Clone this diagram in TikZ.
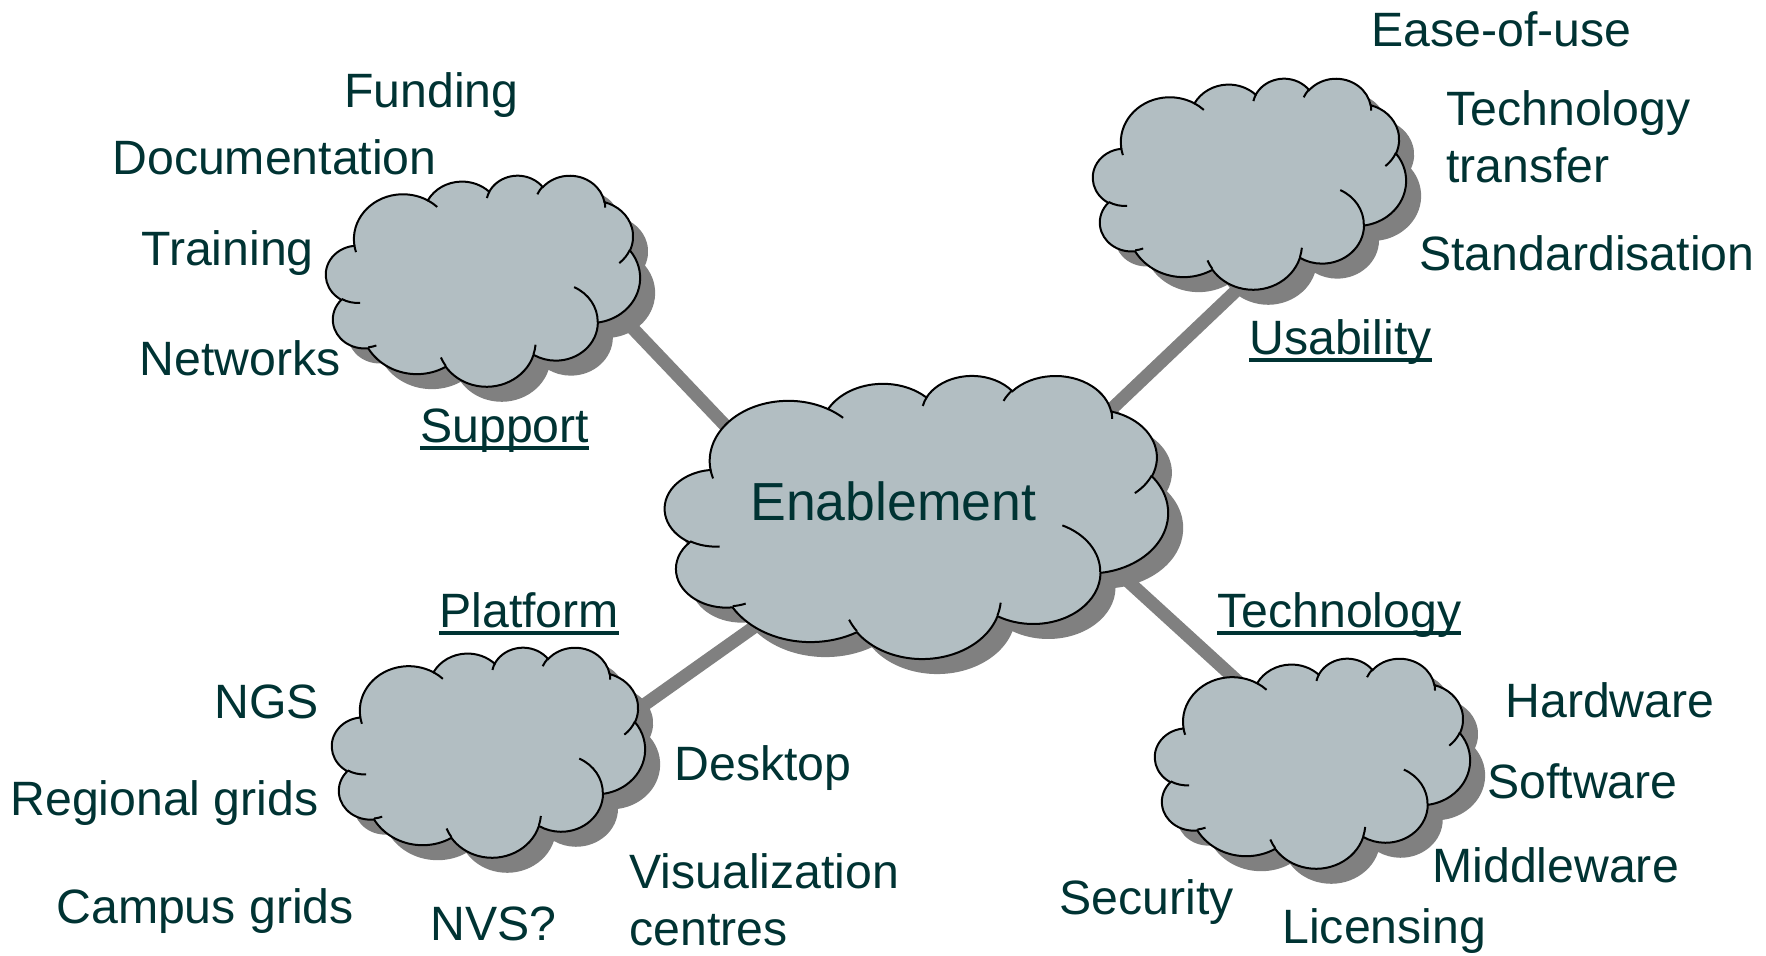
\documentclass[tikz,border=0pt]{standalone}
\usepackage{fontspec}
\setmainfont{Liberation Sans}
\definecolor{cloudfill}{RGB}{178,190,194}
\definecolor{txtc}{RGB}{0,51,51}
\definecolor{shadec}{RGB}{128,128,128}
\newcommand\carc[4]{\pgfextra{%
  \pgfmathsetmacro\cA{#3}\pgfmathsetmacro\cB{#3+#4}%
  \pgfmathsetmacro\tA{atan2(#1*sin(\cA),#2*cos(\cA))}%
  \pgfmathsetmacro\tB{atan2(#1*sin(\cB),#2*cos(\cB))}%
  \pgfmathsetmacro\tB{\tA+mod(\tB-\tA+720,360)}%
  \xdef\gtA{\tA}\xdef\gtB{\tB}}%
  arc[x radius=#1,y radius=#2,start angle=\gtA,end angle=\gtB]}
\newcommand\cloudoutline{(3.900,14.370)
  \carc{6.753}{9.190}{-190.4875}{123.7805}
  \carc{5.333}{7.267}{-144.1024}{89.9452}
  \carc{4.365}{5.945}{-145.8079}{99.7230}
  \carc{4.857}{6.595}{-130.9861}{117.2417}
  \carc{5.333}{7.273}{-78.7089}{109.0269}
  \carc{6.775}{9.220}{-46.2673}{130.2690}
  \carc{5.785}{7.867}{0.6250}{114.0333}
  \carc{6.752}{9.215}{22.4516}{115.1726}
  \carc{7.720}{10.543}{66.2426}{75.7110}
  \carc{4.360}{5.918}{-274.9421}{146.7356}
  \carc{4.345}{5.945}{-246.8285}{152.5189} -- cycle}
\newcommand\cloudticks{%
  (4.693,26.177) \carc{4.345}{5.945}{86.7420}{26.4295}
  (6.928,34.899) \carc{4.360}{5.918}{73.6105}{11.4475}
  (16.478,39.090) \carc{6.752}{9.215}{137.6242}{14.0811}
  (28.827,34.751) \carc{6.752}{9.215}{6.4533}{15.9984}
  (34.129,22.954) \carc{5.785}{7.867}{-70.2924}{70.9174}
  (41.798,15.354) \carc{5.333}{7.273}{30.3180}{27.7515}
  (38.324,5.426) \carc{4.857}{6.595}{-13.7443}{14.8589}
  (29.078,3.952) \carc{4.857}{6.595}{-149.1815}{18.1954}
  (22.141,4.720) \carc{4.365}{5.945}{-163.4943}{17.6864}
  (14.000,5.192) \carc{6.753}{9.190}{-66.7070}{12.3194}
  (4.127,15.789) \carc{6.753}{9.190}{157.6544}{11.8582}}
\newcommand\cloudshape[5]{%
  \pgfmathsetmacro\csx{#4/86.4}\pgfmathsetmacro\csy{#5/86.4}%
  \begin{scope}[shift={(#2+15,#3+15)},x=\csx pt,y=-\csy pt]
    \fill[shadec] \cloudoutline;
  \end{scope}
  \begin{scope}[shift={(#2,#3)},x=\csx pt,y=-\csy pt]
    \filldraw[fill=cloudfill,draw=black,line width=1pt] \cloudoutline;
    \draw[line width=1pt] \cloudticks;
    \coordinate (#1) at (21.6,21.6);
  \end{scope}}
\newcommand\ulbl[1]{\setbox0\hbox{#1}\rlap{\rule[-3.9pt]{\wd0}{2.1pt}}\box0}
\tikzset{
  lbl/.style={anchor=base west,inner sep=0pt,text=txtc,font=\fontsize{24.1pt}{28.5pt}\selectfont},
  biglbl/.style={anchor=base west,inner sep=0pt,text=txtc,font=\fontsize{26.8pt}{31pt}\selectfont},
  conn/.style={draw=shadec,line width=6.5pt}
}
\begin{document}
\begin{tikzpicture}[x=0.5pt,y=-0.5pt]
\useasboundingbox (0,0) rectangle (1766,955);
\fill[white] (0,0) rectangle (1766,955);
% connector end points
\coordinate (sA) at (560,252);  \coordinate (sB) at (800,504);
\coordinate (uA) at (1300,230); \coordinate (uB) at (1000,515);
\coordinate (tA) at (1290,729); \coordinate (tB) at (1050,510);
\coordinate (pA) at (500,807);  \coordinate (pB) at (850,559);
\draw[conn] (sA) -- (sB);
\draw[conn] (uA) -- (uB);
\draw[conn] (tA) -- (tB);
\draw[conn] (pA) -- (pB);
% clouds
\cloudshape{support}{326}{175}{314}{211}
\cloudshape{usability}{1093}{78}{313}{211}
\cloudshape{platform}{332}{647}{313}{210}
\cloudshape{technology}{1155}{658}{315}{210}
\cloudshape{enablement}{665}{375}{503}{283}
% texts
\node[biglbl] (enab) at (750,520) {Enablement};
\node[lbl] (funding) at (344,107) {Funding};
\node[lbl] (documentation) at (112,174) {Documentation};
\node[lbl] (training) at (141,265) {Training};
\node[lbl] (networks) at (139,375) {Networks};
\node[lbl] (supportlbl) at (420,442) {\ulbl{Support}};
\node[lbl] (ease) at (1371,46) {Ease-of-use};
\node[lbl] (techtransfer) at (1446,125) {\vtop{\baselineskip=28.5pt\hbox{Technology}\hbox{transfer}}};
\node[lbl] (standard) at (1419,270) {Standardisation};
\node[lbl] (usabilitylbl) at (1249,354) {\ulbl{Usability}};
\node[lbl] (technologylbl) at (1217,627) {\ulbl{Technology}};
\node[lbl] (hardware) at (1505,717) {Hardware};
\node[lbl] (software) at (1487,798) {Software};
\node[lbl] (middleware) at (1432,882) {Middleware};
\node[lbl] (licensing) at (1282,943) {Licensing};
\node[lbl] (security) at (1059,914) {Security};
\node[lbl] (platformlbl) at (439,627) {\ulbl{Platform}};
\node[lbl] (ngs) at (214,718) {NGS};
\node[lbl] (regional) at (10,815) {Regional grids};
\node[lbl] (campus) at (56,923) {Campus grids};
\node[lbl] (nvs) at (430,940) {NVS?};
\node[lbl] (desktop) at (674,780) {Desktop};
\node[lbl] (visual) at (629,888) {\vtop{\baselineskip=28.5pt\hbox{Visualization}\hbox{centres}}};
\end{tikzpicture}
\end{document}
